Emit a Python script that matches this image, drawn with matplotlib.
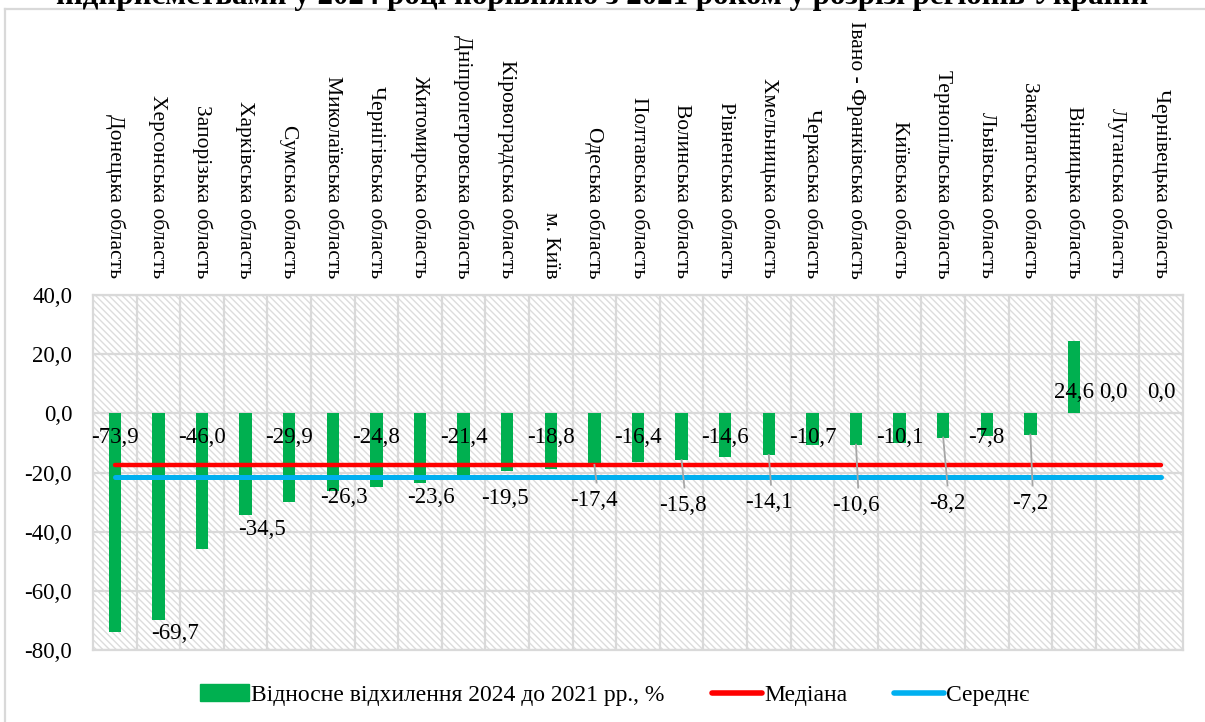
import numpy as np
import matplotlib.pyplot as plt
from matplotlib.patches import Rectangle, Patch
from matplotlib.lines import Line2D

plt.rcParams['font.family'] = ['Liberation Serif', 'DejaVu Serif']

# дані
regions = ['Донецька область', 'Херсонська область', 'Запорізька область',
           'Харківська область', 'Сумська область', 'Миколаївська область',
           'Чернігівська область', 'Житомирська область', 'Дніпропетровська область',
           'Кіровоградська область', 'м. Київ', 'Одеська область',
           'Полтавська область', 'Волинська область', 'Рівненська область',
           'Хмельницька область', 'Черкаська область', 'Івано - Франківська область',
           'Київська область', 'Тернопільська область', 'Львівська область',
           'Закарпатська область', 'Вінницька область', 'Луганська область',
           'Чернівецька область']
deviation = [-73.9, -69.7, -46.0, -34.5, -29.9, -26.3, -24.8, -23.6, -21.4, -19.5,
             -18.8, -17.4, -16.4, -15.8, -14.6, -14.1, -10.7, -10.6, -10.1, -8.2,
             -7.8, -7.2, 24.6, 0.0, 0.0]
median_val = -17.4
mean_val = -21.6

title = 'підприємствами у 2024 році порівняно з 2021 роком у розрізі регіонів України'
bar_name = 'Відносне відхилення 2024 до 2021 рр., %'
median_name = 'Медіана'
mean_name = 'Середнє'

# розміщення підписів даних (зсув по x, положення по y)
label_dx = [0, 0.39, 0, 0.38, 0, 0.25, 0, 0.25, 0, -0.05, 0, 0, 0, 0.03, 0, 0,
            0, 0, 0, 0.1, 0, 0, 0, -0.1, 0]
label_y = [-8.2, -74.5, -8.2, -39.1, -8.2, -28.6, -8.2, -28.6, -8.2, -28.9,
           -8.2, -29.6, -8.2, -31.3, -8.2, -30.3, -8.2, -31.3, -8.2, -30.6,
           -8.2, -30.6, 7.1, 7.1, 7.1]
leaders = [11, 13, 15, 17, 19, 21]

fig = plt.figure(figsize=(12.05, 7.22), dpi=100)
ax = fig.add_axes([93 / 1205, 72 / 722, 1090 / 1205, 355 / 722])

x = np.arange(len(regions))

# заштрихований фон
ax.add_patch(Rectangle((0, 0), 1, 1, transform=ax.transAxes, facecolor='white',
                       edgecolor='#dcdcdc', hatch='\\\\\\\\\\', lw=0, zorder=0))

ax.bar(x, deviation, width=0.28, color='#00B050', zorder=3)
ax.plot(x, [median_val] * len(x), color='#FF0000', lw=3.2,
        solid_capstyle='round', zorder=4)
ax.plot(x, [mean_val] * len(x), color='#00B0F0', lw=3.6,
        solid_capstyle='round', zorder=4)

for i, v in enumerate(deviation):
    ax.text(x[i] + label_dx[i], label_y[i], f'{v:.1f}'.replace('.', ','),
            ha='center', va='center', fontsize=16.5, zorder=6)
    if i in leaders:
        ax.plot([x[i], x[i] + label_dx[i] * 0.5 + 0.05], [v, label_y[i] + 6.2],
                color='#a6a6a6', lw=1.3, zorder=5)

ax.set_xlim(-0.5, len(x) - 0.5)
ax.set_ylim(-80, 40)
ax.set_yticks(np.arange(-80, 41, 20))
ax.set_yticklabels([f'{t:.1f}'.replace('.', ',') for t in np.arange(-80, 41, 20)],
                   fontsize=16.5)

ax.xaxis.tick_top()
ax.set_xticks(x)
ax.set_xticklabels(regions, rotation=270, fontsize=15.5, va='bottom', ha='center')
ax.set_xticks(np.arange(0.5, len(x) - 1, 1), minor=True)
ax.tick_params(axis='both', which='both', length=0)
ax.tick_params(axis='x', pad=12)
ax.tick_params(axis='y', pad=15)

ax.grid(True, which='minor', axis='x', color='#d9d9d9', lw=1.6, zorder=1)
ax.grid(True, which='major', axis='y', color='#d9d9d9', lw=1.6, zorder=1)
ax.set_axisbelow(True)
for s in ax.spines.values():
    s.set_color('#d9d9d9')
    s.set_linewidth(1.6)

# рамка діаграми
fig.add_artist(Line2D([5 / 1205, 5 / 1205], [0, 1 - 9 / 722], color='#d9d9d9', lw=1.6))
fig.add_artist(Line2D([5 / 1205, 1], [1 - 9 / 722, 1 - 9 / 722], color='#d9d9d9', lw=1.6))

fig.text(0.5, 1 - 4 / 722, title, ha='center', va='baseline', fontsize=22.3,
         fontweight='bold')

handles = [Patch(color='#00B050'),
           Line2D([], [], color='#FF0000', lw=4, solid_capstyle='round'),
           Line2D([], [], color='#00B0F0', lw=4, solid_capstyle='round')]
fig.legend(handles, [bar_name, median_name, mean_name], loc='center',
           bbox_to_anchor=(0.51, 1 - 695 / 722), ncol=3, frameon=False,
           fontsize=17, handlelength=2.1, handletextpad=0.1, columnspacing=2.0)

fig.savefig('out.png', dpi=100)
